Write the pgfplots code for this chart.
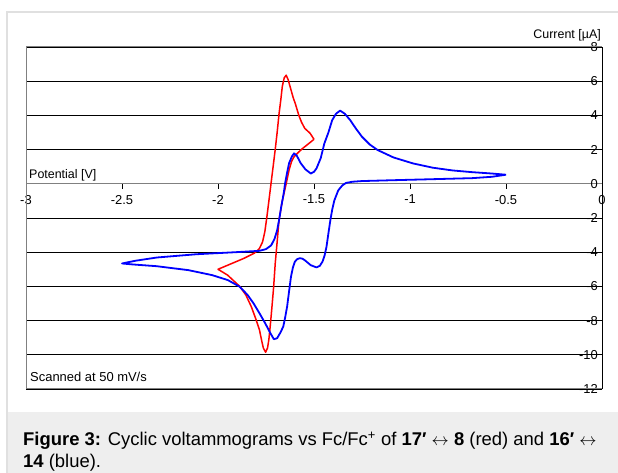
\documentclass[border=0pt]{standalone}
\usepackage{pgfplots}
\pgfplotsset{compat=1.18}
\usepackage{fontspec}
\setmainfont{Liberation Sans}
\definecolor{capbg}{RGB}{238,238,238}
\definecolor{framec}{RGB}{224,224,224}
\definecolor{boxc}{RGB}{128,128,128}
\newcommand{\chartfont}{\fontsize{12.5}{14}\selectfont}
\newcommand{\notefont}{\fontsize{13}{15}\selectfont}
\newcommand{\tickfont}{\fontsize{13}{15}\selectfont}
\newcommand{\capfont}{\fontsize{18.5}{22}\selectfont}
\newcommand{\arr}{$\leftrightarrow$}
\begin{document}
\begin{tikzpicture}[x=1bp,y=1bp]
\path[use as bounding box] (0,0) rectangle (618,473);
\fill[capbg] (7,0) rectangle (618,61);
\draw[framec, line width=1.5bp] (7,0) -- (7,461) -- (618,461);
\begin{axis}[
  at={(26bp,84bp)}, anchor=south west,
  scale only axis, width=576bp, height=342bp,
  xmin=-3, xmax=0, ymin=-12, ymax=8,
  axis x line*=middle, axis y line*=right,
  hide obscured x ticks=false, hide obscured y ticks=false,
  xtick={-3,-2.5,-2,-1.5,-1,-0.5,0},
  xticklabels={-3,-2.5,-2,-1.5,-1,-0.5,0},
  ytick={-12,-10,-8,-6,-4,-2,0,2,4,6,8},
  yticklabels={-12,-10,-8,-6,-4,-2,0,2,4,6,8},
  ymajorgrids, grid style={black, line width=0.8bp},
  x axis line style={boxc, line width=1bp},
  y axis line style={black, line width=1bp},
  xtick align=outside, ytick align=inside,
  major tick length=5bp,
  tick style={black, line width=0.8bp},
  tick label style={font=\tickfont},
  yticklabel style={anchor=east, inner sep=0bp, xshift=-4bp},
  xticklabel style={inner sep=0bp, yshift=-6bp},
  clip=false,
  after end axis/.code={
    \draw[boxc, line width=1bp] (rel axis cs:1,0) -- (rel axis cs:0,0) -- (rel axis cs:0,1) -- (rel axis cs:1,1);
  },
]
\addplot[red, line width=1.5bp, line join=round] coordinates {
(-1.50,2.60) (-1.52,2.95) (-1.548,3.24) (-1.565,3.6) (-1.579,4.0) (-1.595,4.6)
(-1.61,5.1) (-1.625,5.7) (-1.635,6.1) (-1.645,6.35) (-1.655,6.2) (-1.665,5.7)
(-1.673,4.9) (-1.682,4.1) (-1.692,3.0) (-1.702,2.0) (-1.713,1.0) (-1.724,0.0)
(-1.735,-1.0) (-1.745,-1.9) (-1.756,-2.8) (-1.768,-3.4) (-1.785,-3.8) (-1.81,-4.05)
(-1.867,-4.37) (-1.928,-4.66) (-2.0,-5.0) (-1.95,-5.34) (-1.887,-6.0) (-1.855,-6.5)
(-1.826,-7.2) (-1.80,-8.0) (-1.784,-8.55) (-1.772,-9.2) (-1.764,-9.6) (-1.752,-9.85)
(-1.742,-9.6) (-1.735,-9.1) (-1.727,-8.2) (-1.719,-7.2) (-1.71,-6.0) (-1.702,-4.66)
(-1.692,-3.4) (-1.682,-2.1) (-1.665,-1.0) (-1.645,0) (-1.63,0.8) (-1.617,1.3)
(-1.604,1.58) (-1.585,1.8) (-1.559,2.07) (-1.53,2.33) (-1.50,2.60)
};
\addplot[blue, line width=1.8bp, line join=round] coordinates {
(-0.50,0.53) (-0.573,0.60) (-0.676,0.68) (-0.778,0.78) (-0.881,0.94) (-0.984,1.19)
(-1.086,1.54) (-1.168,1.97) (-1.21,2.3) (-1.25,2.75) (-1.28,3.2) (-1.312,3.73)
(-1.34,4.1) (-1.364,4.28) (-1.385,4.1) (-1.405,3.73) (-1.425,3.0) (-1.446,2.36)
(-1.465,1.5) (-1.487,0.9) (-1.50,0.7) (-1.517,0.6) (-1.545,0.85) (-1.569,1.2)
(-1.59,1.65) (-1.604,1.78) (-1.615,1.6) (-1.63,1.2) (-1.641,0.6) (-1.651,0)
(-1.657,-0.5) (-1.665,-1.0) (-1.671,-1.36) (-1.68,-2.0) (-1.692,-2.72) (-1.705,-3.2)
(-1.723,-3.6) (-1.75,-3.82) (-1.784,-3.92) (-1.908,-4.0) (-2.113,-4.12) (-2.318,-4.31)
(-2.43,-4.5) (-2.50,-4.66) (-2.44,-4.72) (-2.318,-4.82) (-2.154,-5.05) (-2.031,-5.34)
(-1.949,-5.63) (-1.887,-6.02) (-1.846,-6.5) (-1.815,-6.99) (-1.784,-7.57) (-1.754,-8.16)
(-1.727,-8.74) (-1.709,-9.09) (-1.692,-9.03) (-1.675,-8.7) (-1.66,-8.35) (-1.65,-7.8)
(-1.64,-7.18) (-1.63,-6.3) (-1.62,-5.44) (-1.61,-4.9) (-1.6,-4.56) (-1.587,-4.4)
(-1.573,-4.35) (-1.56,-4.38) (-1.548,-4.47) (-1.517,-4.76) (-1.487,-4.89) (-1.47,-4.8)
(-1.456,-4.56) (-1.445,-4.2) (-1.435,-3.69) (-1.425,-2.9) (-1.415,-2.14) (-1.405,-1.5)
(-1.394,-0.97) (-1.374,-0.39) (-1.353,-0.1) (-1.333,0.05) (-1.30,0.12) (-1.25,0.16)
(-1.086,0.21) (-0.88,0.27) (-0.676,0.33) (-0.573,0.41) (-0.50,0.53)
};
\end{axis}
\node[anchor=base west, inner sep=0, font=\chartfont] at (29,294) {Potential [V]};
\node[anchor=base east, inner sep=0, font=\chartfont] at (601,434) {Current [µA]};
\node[anchor=base west, inner sep=0, font=\notefont] at (30,91) {Scanned at 50 mV/s};
\node[anchor=base west, inner sep=0, font=\capfont] at (23,27) {\textbf{Figure 3:} Cyclic voltammograms vs Fc/Fc\textsuperscript{+} of \textbf{17′} \arr{} \textbf{8} (red) and \textbf{16′} \arr};
\node[anchor=base west, inner sep=0, font=\capfont] at (23,5) {\textbf{14} (blue).};
\end{tikzpicture}
\end{document}
